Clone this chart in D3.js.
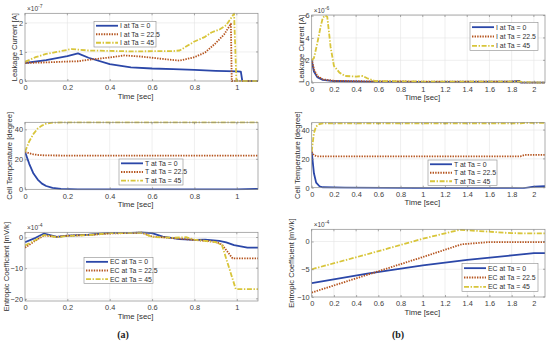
<!doctype html>
<html lang="en">
<head>
<meta charset="utf-8">
<title>Leakage current, cell temperature and entropic coefficient</title>
<script src="https://cdn.jsdelivr.net/npm/d3@7"></script>
<style>
  body { margin: 0; background: #fff; }
  svg { display: block; font-family: "Liberation Sans", Arial, sans-serif; }
  .tick text { fill: #404040; font-size: 7.4px; }
  .grid line { stroke: #e4e4e4; stroke-width: 0.6; }
</style>
</head>
<body>
<svg id="chart" width="550" height="343"></svg>
<script>
// ---- data: [time (s), value] pairs ----
// (a) leakage current, x1e-7 A
const leakA0  = [[0,0.62],[0.1,0.72],[0.2,0.86],[0.25,0.95],[0.3,0.8],[0.4,0.58],[0.5,0.47],[0.6,0.43],[0.7,0.41],[0.8,0.38],[0.9,0.35],[1.0,0.33],[1.019,0.32],[1.026,0],[1.1,0]];
const leakA22 = [[0,0.62],[0.1,0.64],[0.2,0.67],[0.25,0.68],[0.3,0.73],[0.4,0.81],[0.47,0.88],[0.55,0.84],[0.65,0.76],[0.73,0.7],[0.8,0.82],[0.85,0.98],[0.9,1.3],[0.94,1.6],[0.972,1.97],[0.976,0],[1.1,0]];
const leakA45 = [[0,0.66],[0.05,0.82],[0.1,0.93],[0.15,1.0],[0.22,1.1],[0.3,1.05],[0.5,1.02],[0.7,1.03],[0.73,1.05],[0.8,1.36],[0.85,1.52],[0.88,1.67],[0.92,1.78],[0.95,1.92],[0.987,2.32],[0.998,0],[1.1,0]];
// (a) cell temperature, degree
const tempA0  = [[0,25],[0.02,17],[0.04,10.5],[0.06,6.5],[0.08,3.8],[0.1,2.2],[0.13,0.9],[0.17,0.3],[0.25,0],[1.0,0],[1.1,0.3]];
const tempA22 = [[0,25],[0.02,24],[0.04,23.3],[0.07,22.8],[0.1,22.6],[0.2,22.5],[1.1,22.5]];
const tempA45 = [[0,25],[0.02,32],[0.04,37],[0.06,40.5],[0.08,42.5],[0.1,43.8],[0.13,44.5],[0.2,44.7],[1.0,44.6],[1.1,44.7]];
// (a) entropic coefficient, x1e-4 mV/K
const ecA0  = [[0,-1.5],[0.05,-0.1],[0.09,1.3],[0.15,0.2],[0.2,0.6],[0.3,0.9],[0.4,1.5],[0.5,1.5],[0.55,1.7],[0.6,1.4],[0.65,0.3],[0.73,-0.5],[0.8,-0.8],[0.85,-0.7],[0.917,-1.1],[0.95,-1.6],[0.987,-2.5],[1.05,-3.3],[1.1,-3.3]];
const ecA22 = [[0,-3.3],[0.05,-1.0],[0.09,0.7],[0.15,0.2],[0.2,0.6],[0.3,0.8],[0.4,1.3],[0.5,1.5],[0.55,1.6],[0.6,0.3],[0.7,-0.2],[0.8,-0.8],[0.9,-1.4],[0.93,-2.3],[0.98,-6.8],[1.1,-6.8]];
const ecA45 = [[0,-2.6],[0.05,-0.8],[0.09,0.8],[0.15,0.1],[0.2,0.5],[0.3,0.8],[0.4,1.4],[0.5,1.5],[0.55,1.6],[0.6,0.2],[0.7,-0.1],[0.76,0.1],[0.8,-0.7],[0.9,-1.5],[0.93,-2.5],[0.995,-16.8],[1.1,-16.8]];

// (b) leakage current, x1e-6 A
const leakB0  = [[0,2.0],[0.02,1.0],[0.05,0.5],[0.1,0.25],[0.2,0.15],[0.5,0.1],[1.0,0.08],[1.8,0.1],[1.87,0.15],[1.88,0],[2.1,0]];
const leakB22 = [[0,2.1],[0.02,1.2],[0.05,0.6],[0.1,0.3],[0.2,0.17],[0.5,0.12],[1.0,0.1],[1.8,0.1],[1.87,0.13],[1.88,0],[2.1,0]];
const leakB45 = [[0,2.0],[0.02,2.2],[0.05,3.5],[0.08,5.0],[0.1,5.8],[0.12,6.0],[0.14,5.9],[0.17,3.2],[0.2,1.5],[0.25,0.9],[0.3,0.6],[0.4,0.55],[0.46,0.6],[0.5,0.4],[0.57,0.15],[1.0,0.1],[1.87,0.1],[1.9,0.05],[2.1,0]];
// (b) cell temperature, degree
const tempB0  = [[0,25],[0.02,10],[0.04,3.5],[0.07,1],[0.1,0.3],[0.3,0],[1.0,-0.3],[1.9,-0.4],[2.0,0.8],[2.1,1.0]];
const tempB22 = [[0,25],[0.02,22.5],[0.05,21.8],[1.0,21.8],[1.88,21.8],[1.92,22.8],[2.1,22.8]];
const tempB45 = [[0,25],[0.02,38],[0.04,42.5],[0.07,44.2],[0.1,44.6],[1.0,44.6],[1.88,44.6],[1.92,45],[2.1,45]];
// (b) entropic coefficient, x1e-4 mV/K
const ecB0  = [[0,-7.5],[0.5,-5.8],[1.0,-4.3],[1.4,-3.3],[1.8,-2.5],[2.0,-2.1],[2.1,-2.1]];
const ecB22 = [[0,-9.2],[0.5,-6.0],[1.0,-2.8],[1.35,-0.5],[1.6,-0.1],[2.1,-0.1]];
const ecB45 = [[0,-5.0],[0.5,-2.3],[1.0,0.5],[1.33,2.1],[1.5,1.9],[1.8,1.5],[2.1,1.45]];

const xTicksA = [0, 0.2, 0.4, 0.6, 0.8, 1];
const xTicksB = [0, 0.2, 0.4, 0.6, 0.8, 1, 1.2, 1.4, 1.6, 1.8, 2];
const legendTa = ["0", "22.5", "45"];

// series styles (MATLAB-like)
const styles = [
  { color: "#2b47a8", dash: null,            width: 1.8 },
  { color: "#b5541e", dash: "1.4,1.2",       width: 1.8 },
  { color: "#d8c53a", dash: "5,1.6,1.4,1.6", width: 1.8 }
];

// ylx = centre x of the rotated y label
const panels = [
  { box: [25, 13.3, 258, 81],    x: [0, 1.1], y: [0, 2.33],    xt: xTicksA, yt: [0, 1, 2],     exp: "-7", ylx: 14,
    ylab: "Leakage Current [A]", pre: "I", series: [leakA0, leakA22, leakA45], leg: [94, 21.5, 62, 25.5] },
  { box: [25, 122.3, 258, 189.3], x: [0, 1.1], y: [0, 44.7],   xt: xTicksA, yt: [0, 20, 40],   exp: null, ylx: 9.5,
    ylab: "Cell Temperature [degree]", pre: "T", series: [tempA0, tempA22, tempA45], leg: [119, 159, 64, 26] },
  { box: [25, 232.3, 258, 301],  x: [0, 1.1], y: [-20.7, 1.7], xt: xTicksA, yt: [-20, -10, 0], exp: "-4", ylx: 6.5,
    ylab: "Entropic Coefficient [mV/k]", pre: "EC", series: [ecA0, ecA22, ecA45], leg: [84, 257.5, 69, 26] },
  { box: [311.7, 15, 545, 82.7], x: [0, 2.1], y: [0, 6.05],    xt: xTicksB, yt: [0, 2, 4, 6],  exp: "-6", ylx: 301,
    ylab: "Leakage Current [A]", pre: "I", series: [leakB0, leakB22, leakB45], leg: [470, 22.5, 68, 28] },
  { box: [311.7, 122.7, 545, 187.7], x: [0, 2.1], y: [0, 45.1], xt: xTicksB, yt: [0, 20, 40],  exp: null, ylx: 297,
    ylab: "Cell Temperature [degree]", pre: "T", series: [tempB0, tempB22, tempB45], leg: [428, 160, 69, 25.5] },
  { box: [311.7, 229.3, 545, 297], x: [0, 2.1], y: [-10, 2.2], xt: xTicksB, yt: [-10, -5, 0],  exp: "-4", ylx: 291.5,
    ylab: "Entropic Coefficient [mV/k]", pre: "EC", series: [ecB0, ecB22, ecB45], leg: [462, 263.5, 76, 28] }
];

const svg = d3.select("#chart");
svg.append("rect").attr("width", 550).attr("height", 343).attr("fill", "#fff");

panels.forEach((p, i) => {
  const [x0, y0, x1, y1] = p.box;
  const x = d3.scaleLinear().domain(p.x).range([x0, x1]);
  const y = d3.scaleLinear().domain(p.y).range([y1, y0]);
  const g = svg.append("g");

  // grid
  g.append("g").attr("class", "grid")
    .selectAll("line.v").data(p.xt.filter(t => t > p.x[0] && t < p.x[1])).join("line")
    .attr("x1", d => x(d)).attr("x2", d => x(d)).attr("y1", y0).attr("y2", y1);
  g.append("g").attr("class", "grid")
    .selectAll("line.h").data(p.yt.filter(t => t > p.y[0] && t < p.y[1])).join("line")
    .attr("y1", d => y(d)).attr("y2", d => y(d)).attr("x1", x0).attr("x2", x1);

  // lines
  const clipId = "clip" + i;
  g.append("clipPath").attr("id", clipId).append("rect")
    .attr("x", x0).attr("y", y0 - 1).attr("width", x1 - x0).attr("height", y1 - y0 + 2);
  const line = d3.line().x(d => x(d[0])).y(d => y(d[1]));
  g.append("g").attr("clip-path", `url(#${clipId})`)
    .selectAll("path").data(p.series).join("path")
    .attr("d", line)
    .attr("fill", "none")
    .attr("stroke", (d, k) => styles[k].color)
    .attr("stroke-width", (d, k) => styles[k].width)
    .attr("stroke-dasharray", (d, k) => styles[k].dash)
    .attr("stroke-linejoin", "round");

  // axes
  const fmt = d => d3.format("~g")(d);
  const xa = g.append("g").attr("transform", `translate(0,${y1})`)
    .call(d3.axisBottom(x).tickValues(p.xt).tickFormat(fmt).tickSizeInner(-2).tickSizeOuter(0).tickPadding(4));
  const ya = g.append("g").attr("transform", `translate(${x0},0)`)
    .call(d3.axisLeft(y).tickValues(p.yt).tickFormat(fmt).tickSizeInner(-2).tickSizeOuter(0).tickPadding(2));
  [xa, ya].forEach(a => {
    a.select(".domain").remove();
    a.attr("font-family", null).attr("font-size", null);
    a.selectAll(".tick line").attr("stroke", "#777").attr("stroke-width", 0.6);
  });
  // top/right ticks
  g.selectAll("line.tt").data(p.xt).join("line")
    .attr("x1", d => x(d)).attr("x2", d => x(d)).attr("y1", y0).attr("y2", y0 + 2)
    .attr("stroke", "#777").attr("stroke-width", 0.6);
  g.selectAll("line.rt").data(p.yt).join("line")
    .attr("y1", d => y(d)).attr("y2", d => y(d)).attr("x1", x1).attr("x2", x1 - 2)
    .attr("stroke", "#777").attr("stroke-width", 0.6);

  g.append("rect").attr("x", x0).attr("y", y0).attr("width", x1 - x0).attr("height", y1 - y0)
    .attr("fill", "none").attr("stroke", "#8a8a8a").attr("stroke-width", 0.7);

  // labels
  g.append("text").attr("x", (x0 + x1) / 2 - 6).attr("y", y1 + 17.5)
    .attr("text-anchor", "middle").attr("font-size", 7.8).attr("fill", "#303030").text("Time [sec]");
  g.append("text")
    .attr("transform", `translate(${p.ylx + 2.6},${(y0 + y1) / 2}) rotate(-90)`)
    .attr("text-anchor", "middle").attr("font-size", 7.6).attr("fill", "#303030").text(p.ylab);
  if (p.exp) {
    const t = g.append("text").attr("x", x0 + 2).attr("y", y0 - 2.5)
      .attr("font-size", 6.5).attr("fill", "#404040");
    t.append("tspan").text("\u00d710");
    t.append("tspan").attr("dy", -2.5).attr("font-size", 5).text(p.exp);
  }

  // legend
  const [lx, ly, lw, lh] = p.leg;
  const lg = g.append("g");
  lg.append("rect").attr("x", lx).attr("y", ly).attr("width", lw).attr("height", lh)
    .attr("fill", "#fff").attr("stroke", "#8a8a8a").attr("stroke-width", 0.6);
  legendTa.forEach((ta, k) => {
    const yy = ly + lh * (k + 0.5) / 3;
    lg.append("line").attr("x1", lx + 2).attr("x2", lx + 24).attr("y1", yy).attr("y2", yy)
      .attr("stroke", styles[k].color).attr("stroke-width", styles[k].width)
      .attr("stroke-dasharray", styles[k].dash);
    lg.append("text").attr("x", lx + 26).attr("y", yy + 2.4)
      .attr("font-size", 6.9).attr("fill", "#303030")
      .text(`${p.pre} at Ta = ${ta}`);
  });
});

// sub-figure captions
svg.append("text").attr("x", 123).attr("y", 338).attr("text-anchor", "middle")
  .attr("font-family", "'Liberation Serif', serif").attr("font-size", 10).attr("font-weight", "bold")
  .attr("fill", "#222").text("(a)");
svg.append("text").attr("x", 398).attr("y", 338).attr("text-anchor", "middle")
  .attr("font-family", "'Liberation Serif', serif").attr("font-size", 10).attr("font-weight", "bold")
  .attr("fill", "#222").text("(b)");
</script>
</body>
</html>
